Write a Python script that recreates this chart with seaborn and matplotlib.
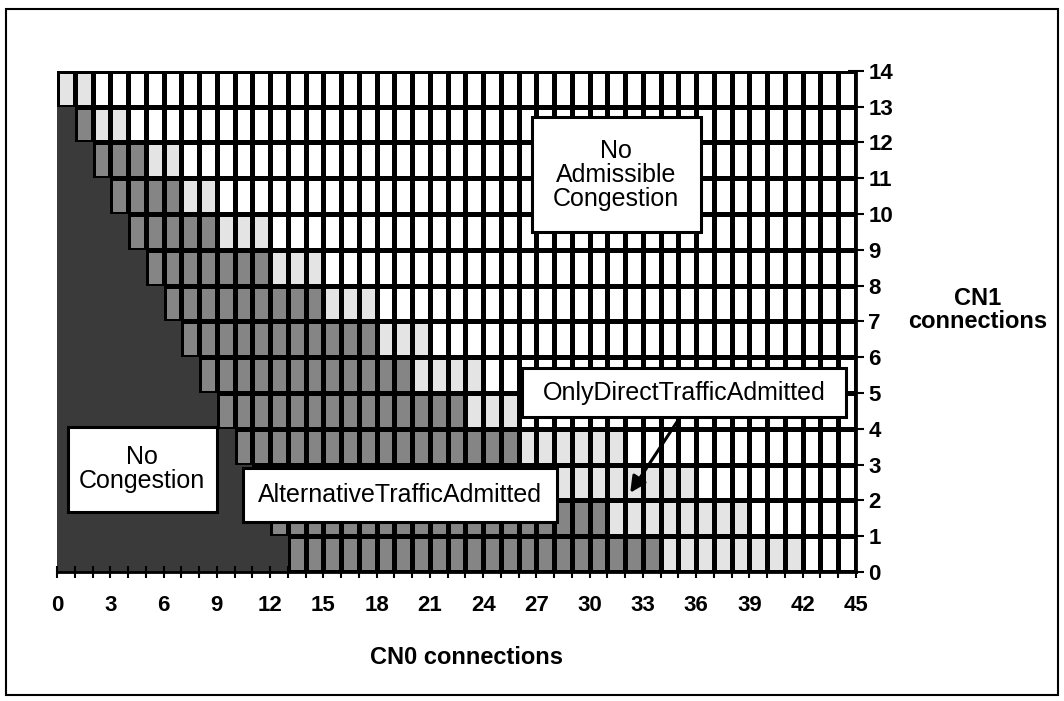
import numpy as np
import pandas as pd
import seaborn as sns
import matplotlib.pyplot as plt
from matplotlib.colors import ListedColormap
from matplotlib.patches import Rectangle

# per CN1 row (0..13): CN0 count where each region ends
cn1_rows = list(range(14))
no_congestion_end = [13, 12, 11, 10, 9, 8, 7, 6, 5, 4, 3, 2, 1, 0]
alternative_end = [34, 31, 28, 26, 23, 20, 18, 15, 12, 9, 7, 5, 2, 0]
only_direct_end = [42, 39, 36, 32, 26, 24, 21, 18, 15, 12, 9, 7, 4, 2]
cn0_cols = list(range(45))

x_ticks = list(range(0, 46, 3))
y_ticks = list(range(0, 15))

# 0 = no admissible congestion, 1 = only direct, 2 = alternative, 3 = no congestion
grid = np.zeros((len(cn1_rows), len(cn0_cols)), dtype=int)
for j in cn1_rows:
    for i in cn0_cols:
        if i < no_congestion_end[j]:
            grid[j, i] = 3
        elif i < alternative_end[j]:
            grid[j, i] = 2
        elif i < only_direct_end[j]:
            grid[j, i] = 1
df = pd.DataFrame(grid, index=cn1_rows, columns=cn0_cols)

cmap = ListedColormap(['white', '#e4e4e4', '#858585', '#3a3a3a'])

plt.rcParams['font.family'] = ['Liberation Sans', 'DejaVu Sans']
fig = plt.figure(figsize=(10.64, 7.01), dpi=100)
ax = fig.add_axes([0.0536, 0.184, 0.7509, 0.715])

sns.heatmap(df, mask=(df == 3), cmap=cmap, vmin=-0.5, vmax=3.5, cbar=False,
            linewidths=2.4, linecolor='black', ax=ax)
sns.heatmap(df, mask=(df != 3), cmap=cmap, vmin=-0.5, vmax=3.5, cbar=False,
            linewidths=0, ax=ax)
ax.set_ylim(0, 14)
ax.set_xlim(0, 45)

ax.set_xticks(x_ticks)
ax.set_xticklabels([str(t) for t in x_ticks], rotation=0, fontsize=16, fontweight='bold')
ax.set_xticks(cn0_cols + [45], minor=True)
ax.set_yticks(y_ticks)
ax.set_yticklabels([str(t) for t in y_ticks], rotation=0, fontsize=16, fontweight='bold')
ax.yaxis.tick_right()
ax.tick_params(axis='x', which='both', direction='inout', length=9, width=1.5, pad=12, color='black')
ax.tick_params(axis='y', which='both', direction='inout', length=12, width=1.5, pad=3, color='black',
               right=True, left=False, labelright=True, labelleft=False)
for side in ['bottom', 'right']:
    ax.spines[side].set_visible(True)
    ax.spines[side].set_linewidth(2)
    ax.spines[side].set_color('black')
for side in ['top', 'left']:
    ax.spines[side].set_visible(False)
ax.set_xlabel('')
ax.set_ylabel('')

# label boxes: (x0, y0, width, height) in data units, then text centre
labels = [
    ((26.74, 9.50, 9.55, 3.21), (31.5, 11.1), 'No\nAdmissible\nCongestion'),
    ((26.18, 4.33, 18.26, 1.37), (35.3, 5.0), 'OnlyDirectTrafficAdmitted'),
    ((10.45, 1.40, 17.70, 1.51), (19.3, 2.15), 'AlternativeTrafficAdmitted'),
    ((0.62, 1.68, 8.37, 2.37), (4.8, 2.87), 'No\nCongestion'),
]
for (x0, y0, w, h), (tx, ty), txt in labels:
    ax.add_patch(Rectangle((x0, y0), w, h, facecolor='white', edgecolor='black',
                           linewidth=2.2, zorder=5))
    ax.text(tx, ty, txt, ha='center', va='center', fontsize=18, linespacing=1.0, zorder=6)

ax.annotate('', xy=(32.2, 2.15), xytext=(35.1, 4.33),
            arrowprops=dict(arrowstyle='-|>', color='black', lw=2.2, mutation_scale=24),
            zorder=7)

fig.text(466 / 1064, 1 - 657 / 701, 'CN0 connections', ha='center', va='center',
         fontsize=17, fontweight='bold')
fig.text(978 / 1064, 1 - 310 / 701, 'CN1\nconnections', ha='center', va='center',
         fontsize=17, fontweight='bold', linespacing=1.05)

fig.patches.append(Rectangle((0.006, 0.008), 0.988, 0.979, transform=fig.transFigure,
                             fill=False, edgecolor='black', linewidth=1.5))

fig.savefig('out.png', dpi=100)
